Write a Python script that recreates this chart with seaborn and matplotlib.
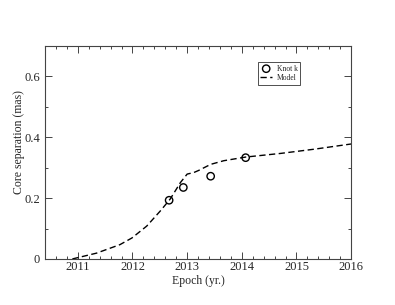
import numpy as np
import pandas as pd
import matplotlib
matplotlib.use('Agg')
import matplotlib.pyplot as plt
from matplotlib.ticker import MultipleLocator, FuncFormatter
import seaborn as sns

# 观测点 (Knot k)
knot_epoch = [2012.67, 2012.93, 2013.43, 2014.07]
knot_sep = [0.193, 0.235, 0.272, 0.333]

# 模型曲线
model_epoch = [2010.9, 2011.34, 2011.77, 2011.99, 2012.26, 2012.51, 2012.69, 2012.88,
               2013.0, 2013.12, 2013.21, 2013.43, 2013.67, 2014.07, 2014.71, 2015.33, 2016.0]
model_sep = [0.0, 0.019, 0.047, 0.069, 0.108, 0.158, 0.197, 0.252,
             0.279, 0.284, 0.291, 0.311, 0.323, 0.335, 0.347, 0.361, 0.378]

knots = pd.DataFrame({'Epoch': knot_epoch, 'Sep': knot_sep})
model = pd.DataFrame({'Epoch': model_epoch, 'Sep': model_sep})

sns.set_style('ticks')
plt.rcParams['font.family'] = ['Liberation Serif', 'DejaVu Serif']

fig = plt.figure(figsize=(3.95, 3.05), dpi=100)
ax = fig.add_axes([0.114, 0.151, 0.775, 0.698])

sns.lineplot(data=model, x='Epoch', y='Sep', ax=ax, color='black', lw=1.0,
             dashes=False, linestyle=(0, (4.5, 2.5)), label='Model', sort=False)
sns.scatterplot(data=knots, x='Epoch', y='Sep', ax=ax, marker='o', s=28,
                facecolor='none', edgecolor='black', linewidth=1.0, label='Knot k')

ax.set_xlim(2010.4, 2016)
ax.set_ylim(0, 0.7)
ax.xaxis.set_major_locator(MultipleLocator(1))
ax.xaxis.set_minor_locator(MultipleLocator(0.2))
ax.yaxis.set_major_locator(MultipleLocator(0.2))
ax.yaxis.set_minor_locator(MultipleLocator(0.1))
ax.yaxis.set_major_formatter(FuncFormatter(lambda v, p: '0' if abs(v) < 1e-9 else f'{v:.1f}'))
ax.tick_params(which='both', direction='in', top=True, right=True, labelsize=9, width=0.6)
ax.tick_params(which='major', length=5)
ax.tick_params(which='minor', length=2.5)
ax.tick_params(axis='x', pad=1.5)
for s in ax.spines.values():
    s.set_linewidth(0.8)
    s.set_color('#444444')

ax.set_xlabel('Epoch (yr.)', fontsize=8.5)
ax.set_ylabel('Core separation (mas)', fontsize=8.5)
ax.xaxis.set_label_coords(0.5, -0.075)
ax.yaxis.set_label_coords(-0.066, 0.55)

h, l = ax.get_legend_handles_labels()
leg = ax.legend(h[::-1], l[::-1], loc='upper left', bbox_to_anchor=(0.695, 0.925),
                fontsize=5.5, frameon=True, fancybox=False, handlelength=1.5,
                borderpad=0.35, labelspacing=0.15, handletextpad=0.6, borderaxespad=0)
leg.get_frame().set_edgecolor('black')
leg.get_frame().set_linewidth(0.6)

fig.savefig('out.png', dpi=100)
